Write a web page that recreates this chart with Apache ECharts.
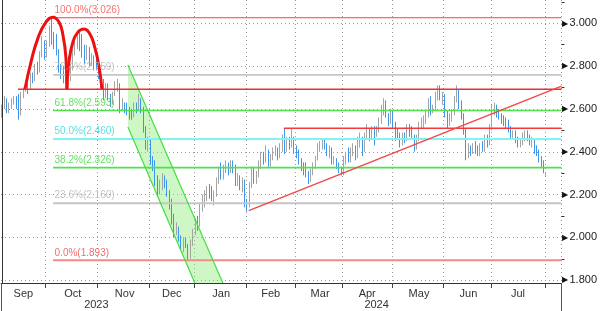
<!DOCTYPE html>
<html><head><meta charset="utf-8">
<script src="https://cdn.jsdelivr.net/npm/echarts@6/dist/echarts.min.js"></script>
<style>html,body{margin:0;padding:0;background:#fff}#c{width:600px;height:311px}</style>
</head><body><div id="c"></div>
<script>
// ---------- categories ----------
const firstDay = '2023-09-05';
const holidays = ['2023-12-25','2023-12-26','2024-01-01','2024-03-29','2024-04-01','2024-05-01'];
const totalSlots = 238;            // 232 trading days + empty space on the right
const monthNames = ['Jan','Feb','Mar','Apr','May','Jun','Jul','Aug','Sep','Oct','Nov','Dec'];

// ---------- daily OHLC ----------
const opens = [
 2.58,2.61,2.64,2.59,2.61,2.63,2.64,2.65,2.58,2.67,2.69,2.71,2.69,2.75,2.74,2.79,2.78,2.85,2.90, // Sep
 2.85,2.90,2.97,2.93,2.90,2.86,2.79,2.77,2.74,2.78,2.74,2.79,2.86,2.91,2.93,2.89,2.86,2.84,2.88,2.82,2.83,2.81, // Oct
 2.80,2.76,2.72,2.66,2.70,2.66,2.63,2.67,2.71,2.71,2.61,2.62,2.60,2.59,2.57,2.56,2.61,2.60,2.64,2.60,2.51,2.43, // Nov
 2.45,2.36,2.35,2.27,2.21,2.24,2.28,2.26,2.21,2.15,2.10,2.02,2.04,2.00,1.96,1.98,1.96,1.91,1.97, // Dec
 2.02,2.07,2.05,2.14,2.17,2.19,2.23,2.20,2.18,2.20,2.26,2.30,2.29,2.32,2.34,2.31,2.34,2.33,2.26,2.28,2.24,2.26, // Jan
 2.16,2.15,2.24,2.31,2.27,2.29,2.34,2.38,2.36,2.40,2.35,2.37,2.40,2.41,2.38,2.43,2.46,2.41,2.45,2.43,2.46, // Feb
 2.41,2.40,2.36,2.33,2.31,2.30,2.27,2.31,2.33,2.37,2.42,2.43,2.45,2.42,2.40,2.41,2.36,2.36,2.34,2.31, // Mar
 2.30,2.36,2.38,2.37,2.40,2.42,2.38,2.45,2.46,2.40,2.47,2.50,2.47,2.50,2.49,2.50,2.54,2.60,2.63,2.57,2.54, // Apr
 2.58,2.53,2.49,2.48,2.44,2.47,2.46,2.51,2.49,2.47,2.42,2.46,2.52,2.53,2.54,2.58,2.61,2.59,2.60,2.66,2.69,2.66, // May
 2.66,2.58,2.53,2.55,2.58,2.64,2.67,2.62,2.57,2.50,2.38,2.41,2.40,2.43,2.41,2.40,2.42,2.41,2.46,2.44, // Jun
 2.50,2.60,2.60,2.58,2.56,2.55,2.54,2.53,2.51,2.48,2.49,2.46,2.43,2.44,2.47,2.48,2.47,2.44,2.45,2.41,2.40,2.37,2.35,2.29 // Jul + Aug 1
];
const highs = [
 2.62,2.66,2.65,2.63,2.65,2.66,2.66,2.67,2.68,2.70,2.73,2.72,2.77,2.77,2.81,2.82,2.87,2.94,2.92,
 2.92,2.99,3.026,2.96,2.95,2.88,2.81,2.80,2.80,2.80,2.81,2.88,2.93,2.96,2.97,2.95,2.90,2.90,2.89,2.86,2.85,2.84,
 2.82,2.78,2.74,2.72,2.72,2.67,2.68,2.73,2.74,2.72,2.65,2.63,2.63,2.61,2.60,2.63,2.63,2.67,2.65,2.61,2.52,2.47,
 2.46,2.38,2.36,2.29,2.27,2.30,2.29,2.27,2.22,2.18,2.11,2.07,2.05,2.01,2.00,2.00,1.97,1.99,2.04,
 2.09,2.10,2.16,2.20,2.22,2.24,2.25,2.24,2.22,2.28,2.33,2.35,2.34,2.36,2.35,2.36,2.36,2.34,2.30,2.29,2.28,2.27,
 2.18,2.26,2.33,2.33,2.31,2.36,2.40,2.40,2.43,2.41,2.39,2.42,2.43,2.42,2.44,2.48,2.51,2.47,2.47,2.51,2.47,
 2.43,2.41,2.37,2.35,2.35,2.31,2.32,2.35,2.38,2.44,2.45,2.46,2.46,2.44,2.43,2.42,2.38,2.37,2.35,2.33,
 2.38,2.40,2.42,2.42,2.44,2.43,2.47,2.49,2.47,2.49,2.53,2.51,2.52,2.52,2.52,2.56,2.62,2.65,2.64,2.58,2.60,
 2.59,2.54,2.51,2.49,2.49,2.49,2.53,2.53,2.52,2.48,2.48,2.54,2.56,2.57,2.60,2.65,2.66,2.62,2.68,2.71,2.71,2.68,
 2.67,2.59,2.58,2.60,2.66,2.71,2.69,2.64,2.58,2.51,2.44,2.43,2.44,2.45,2.43,2.44,2.45,2.48,2.48,2.53,
 2.62,2.63,2.62,2.60,2.58,2.57,2.56,2.55,2.52,2.50,2.50,2.47,2.46,2.49,2.50,2.50,2.48,2.47,2.46,2.43,2.41,2.38,2.36,2.30
];
const lows = [
 2.56,2.60,2.58,2.58,2.60,2.62,2.60,2.55,2.57,2.65,2.68,2.67,2.69,2.72,2.73,2.76,2.77,2.84,2.83,
 2.84,2.89,2.90,2.88,2.85,2.77,2.74,2.72,2.72,2.73,2.73,2.78,2.85,2.88,2.87,2.84,2.81,2.83,2.80,2.80,2.78,2.78,
 2.74,2.70,2.64,2.65,2.64,2.61,2.62,2.66,2.68,2.58,2.59,2.58,2.57,2.55,2.55,2.56,2.58,2.59,2.58,2.49,2.41,2.40,
 2.34,2.31,2.24,2.19,2.20,2.22,2.23,2.19,2.13,2.06,2.00,2.01,1.98,1.94,1.93,1.95,1.893,1.90,1.96,
 2.01,2.03,2.05,2.12,2.14,2.17,2.18,2.17,2.15,2.19,2.25,2.27,2.27,2.30,2.29,2.30,2.30,2.24,2.24,2.22,2.21,2.14,
 2.12,2.14,2.23,2.25,2.25,2.28,2.32,2.34,2.35,2.33,2.33,2.36,2.38,2.36,2.37,2.40,2.39,2.40,2.41,2.42,2.39,
 2.37,2.34,2.31,2.29,2.28,2.25,2.26,2.29,2.32,2.36,2.40,2.41,2.41,2.38,2.37,2.34,2.34,2.32,2.30,2.29,
 2.29,2.34,2.35,2.35,2.38,2.36,2.37,2.42,2.38,2.40,2.46,2.45,2.46,2.43,2.47,2.49,2.53,2.57,2.56,2.52,2.53,
 2.51,2.45,2.46,2.42,2.43,2.44,2.45,2.47,2.46,2.40,2.41,2.45,2.51,2.51,2.53,2.56,2.57,2.58,2.59,2.64,2.64,2.62,
 2.56,2.51,2.52,2.54,2.57,2.63,2.60,2.55,2.48,2.36,2.37,2.38,2.39,2.39,2.38,2.38,2.40,2.40,2.42,2.43,
 2.50,2.57,2.56,2.55,2.53,2.52,2.51,2.49,2.46,2.46,2.44,2.42,2.42,2.43,2.45,2.45,2.43,2.42,2.39,2.38,2.35,2.33,2.30,2.285
];
const closes = [
 2.61,2.64,2.59,2.61,2.63,2.64,2.62,2.58,2.67,2.69,2.71,2.69,2.75,2.74,2.79,2.78,2.85,2.90,2.85,
 2.90,2.97,2.93,2.90,2.88,2.79,2.77,2.74,2.78,2.74,2.79,2.86,2.91,2.93,2.89,2.86,2.84,2.88,2.82,2.83,2.81,2.80,
 2.76,2.72,2.66,2.70,2.66,2.63,2.67,2.71,2.71,2.61,2.62,2.60,2.59,2.57,2.56,2.61,2.60,2.64,2.60,2.51,2.43,2.45,
 2.36,2.35,2.27,2.21,2.24,2.28,2.26,2.21,2.15,2.10,2.02,2.04,2.00,1.96,1.98,1.96,1.91,1.97,2.02,
 2.07,2.05,2.14,2.17,2.19,2.23,2.20,2.18,2.20,2.26,2.30,2.29,2.32,2.34,2.31,2.34,2.33,2.26,2.28,2.24,2.26,2.16,
 2.15,2.24,2.31,2.27,2.29,2.34,2.38,2.36,2.40,2.35,2.37,2.40,2.41,2.38,2.43,2.46,2.41,2.45,2.43,2.46,2.41,
 2.40,2.36,2.33,2.31,2.30,2.27,2.31,2.33,2.37,2.42,2.43,2.45,2.42,2.40,2.41,2.36,2.36,2.34,2.31,2.30,
 2.36,2.38,2.37,2.40,2.42,2.38,2.45,2.46,2.40,2.47,2.50,2.47,2.50,2.49,2.50,2.54,2.60,2.63,2.57,2.54,2.58,
 2.53,2.49,2.48,2.44,2.47,2.46,2.51,2.49,2.47,2.42,2.46,2.52,2.53,2.54,2.58,2.61,2.59,2.60,2.66,2.69,2.66,2.66,
 2.58,2.53,2.55,2.58,2.64,2.67,2.62,2.57,2.50,2.38,2.41,2.40,2.43,2.41,2.40,2.42,2.41,2.46,2.44,2.50,
 2.60,2.60,2.58,2.56,2.55,2.54,2.53,2.51,2.48,2.49,2.46,2.43,2.44,2.47,2.48,2.47,2.44,2.45,2.41,2.40,2.37,2.35,2.31,2.292
];
const lastPrice = 2.292;

// ---------- Fibonacci retracement ----------
const fibPct  = ['100.0%','76.4%','61.8%','50.0%','38.2%','23.6%','0.0%'];
const fibVal  = [3.026, 2.759, 2.593, 2.460, 2.326, 2.160, 1.893];
const fibLineColor = ['#ee4040','#c6c6c6','#50e050','#80f4f4','#50e050','#c6c6c6','#f28a8a'];
const fibTextColor = ['#f05050','#b4b4b4','#3cd83c','#2ed8d8','#3cd83c','#b4b4b4','#ee4848'];
const fibLineWidth = [1.2, 1.6, 1.6, 2, 1.6, 2, 2];
const fibStart = 21.6;   // slot index of the October high
const slotEnd = 237.5;

// ---------- drawn annotations (slot index, value) ----------
const arcLeft  = [[9.68,2.693],[12.23,2.819],[15.20,2.931],[18.59,3.006],[21.56,3.029],[24.11,3.006],[25.81,2.945],[27.08,2.838],[27.50,2.693]];
const arcRight = [[27.50,2.693],[28.35,2.819],[30.05,2.913],[32.17,2.959],[34.71,2.973],[37.26,2.950],[39.38,2.885],[41.08,2.801],[42.35,2.693]];
const necklinePts   = [[6.7,2.692],[237.5,2.692]];
const resistancePts = [[119.6,2.510],[237.5,2.510]];
const trendPts      = [[104.7,2.125],[237.5,2.707]];
const channelUpper  = [[53.4,2.805],[93.7,1.787]];
const channelLower  = [[53.4,2.516],[81.8,1.787]];

// ---------- build ----------
function buildDates(){
  const out=[]; const p=firstDay.split('-').map(Number);
  const d=new Date(Date.UTC(p[0],p[1]-1,p[2]));
  while(out.length<totalSlots){
    const wd=d.getUTCDay(); const s=d.toISOString().slice(0,10);
    if(wd!==0&&wd!==6&&holidays.indexOf(s)<0) out.push(s);
    d.setUTCDate(d.getUTCDate()+1);
  }
  return out;
}
const dates = buildDates();
const monthStart = new Set(), yearStart = new Set();
const monthGroups = {}, yearGroups = {};
dates.forEach((s,i)=>{
  const m=s.slice(0,7), y=s.slice(0,4);
  if(i>0 && dates[i-1].slice(0,7)!==m) monthStart.add(i);
  if(i>0 && dates[i-1].slice(0,4)!==y) yearStart.add(i);
  (monthGroups[m]=monthGroups[m]||[]).push(i);
  (yearGroups[y]=yearGroups[y]||[]).push(i);
});
const monthLabelIdx = new Set(), yearLabelIdx = new Set();
Object.values(monthGroups).forEach(g=>{ if(g.length>=10) monthLabelIdx.add(Math.round((g[0]+g[g.length-1])/2)); });
Object.values(yearGroups).forEach(g=>{ yearLabelIdx.add(Math.floor((g[0]+g[g.length-1])/2)); });

const ohlc = dates.map((d,i)=> i<closes.length ? [opens[i],closes[i],lows[i],highs[i]] : '-');

const minorTickVals = [1.9,2.1,2.3,2.5,2.7,2.9,3.1];
const UP='#a4a4a4', DOWN='#3d95ec';
const dotted = {color:'#9a9a9a', width:1, type:[1,3]};

function lineSeries(pts,color,width,smooth,z){
  return {type:'line', xAxisIndex:2, yAxisIndex:0, data:pts, symbol:'none', showSymbol:false,
    smooth:smooth||false, lineStyle:{color:color,width:width}, silent:true, z:z||5, animation:false};
}

const series = [];
series.push({
  type:'custom', xAxisIndex:2, yAxisIndex:0, data:[[0,2]], silent:true, z:1, animation:false,
  renderItem:(p,api)=>({type:'polygon',
    shape:{points:[channelUpper[0],channelUpper[1],channelLower[1],channelLower[0]].map(q=>api.coord(q))},
    style:{fill:'rgba(140,235,120,0.42)'}})
});
series.push({
  type:'candlestick', xAxisIndex:0, yAxisIndex:0, data:ohlc, barWidth:1, z:3, animation:false,
  itemStyle:{color:UP,color0:DOWN,borderColor:UP,borderColor0:DOWN,borderWidth:1},
  markLine:{symbol:['none','none'], silent:true, animation:false,
    lineStyle:{width:0,opacity:0},
    label:{show:true, position:'end', distance:1, formatter:'{a|◀}{b|'+lastPrice.toFixed(3)+'}',
      rich:{a:{color:'#a8a8a8', fontSize:10, padding:[0,0,0,0]},
            b:{backgroundColor:'#a8a8a8', color:'#1a1a1a', fontSize:11, padding:[2,2,1,1], lineHeight:14}}},
    data:[{yAxis:lastPrice}]}
});
fibVal.forEach((v,i)=>{
  series.push(lineSeries([[fibStart,v],[slotEnd,v]], fibLineColor[i], fibLineWidth[i], false, 4));
});
series.push(lineSeries(channelUpper,'#44dd44',1.2,false,4));
series.push(lineSeries(channelLower,'#44dd44',1.2,false,4));
series.push(lineSeries(necklinePts,'#ec3030',1.3,false,6));
series.push(lineSeries(resistancePts,'#ee3c3c',1.3,false,6));
series.push(lineSeries(trendPts,'#f04848',1.4,false,6));
series.push(lineSeries(arcLeft,'#ee1010',3,0.5,7));
series.push(lineSeries(arcRight,'#ee1010',3,0.5,7));
series.push({
  type:'scatter', xAxisIndex:2, yAxisIndex:0, symbol:'rect', symbolSize:1, silent:true, z:8, animation:false,
  itemStyle:{color:'rgba(0,0,0,0)'},
  data: fibVal.map((v,i)=>({value:[fibStart,v],
    label:{show:true, position:[2,-12], fontSize:10, color:fibTextColor[i],
      formatter: fibPct[i]+'('+v.toFixed(3)+')'}}))
});

const option = {
  animation:false,
  backgroundColor:'#ffffff',
  textStyle:{fontFamily:'Liberation Sans, Arial, sans-serif'},
  grid:{left:1, right:38, top:0, bottom:28, containLabel:false},
  xAxis:[
    {type:'category', data:dates, boundaryGap:true, position:'bottom',
     axisLine:{show:true, lineStyle:{color:'#333', width:1}},
     axisTick:{show:true, interval:(i)=>monthStart.has(i), length:5, lineStyle:{color:'#444'}},
     axisLabel:{interval:(i)=>monthLabelIdx.has(i), formatter:(v)=>monthNames[Number(v.slice(5,7))-1],
       margin:5, fontSize:11, color:'#333'},
     splitLine:{show:true, interval:(i)=>monthStart.has(i), lineStyle:dotted}},
    {type:'category', data:dates, boundaryGap:true, position:'bottom',
     axisLine:{show:false},
     axisTick:{show:true, interval:(i)=>yearStart.has(i), length:28, lineStyle:{color:'#555'}},
     axisLabel:{interval:(i)=>yearLabelIdx.has(i), formatter:(v)=>v.slice(0,4), margin:16, fontSize:11, color:'#333'},
     splitLine:{show:false}},
    {type:'value', min:-0.5, max:slotEnd, show:false}
  ],
  yAxis:[
    {type:'value', position:'right', min:1.787, max:3.109, splitNumber:6,
     axisLine:{show:true, lineStyle:{color:'#333', width:1}},
     axisTick:{show:false},
     axisLabel:{margin:1, fontSize:11, color:'#222',
       formatter:(v)=>{ const r=Math.round(v*10); if(Math.abs(v*10-r)>1e-6 || r%2) return ''; return '{a|▶}'+v.toFixed(3); },
       rich:{a:{fontSize:8, color:'#111', padding:[0,1,0,0]}}},
     splitLine:{show:true, showMinLine:false, showMaxLine:false, lineStyle:dotted}},
    {type:'value', position:'right', min:1.787, max:3.109,
     axisLine:{show:false}, axisLabel:{show:false}, splitLine:{show:false},
     axisTick:{show:true, customValues:minorTickVals, length:3, lineStyle:{color:'#333'}}}
  ],
  series: series
};
const chart = echarts.init(document.getElementById('c'));
chart.setOption(option);
</script>
</body></html>
